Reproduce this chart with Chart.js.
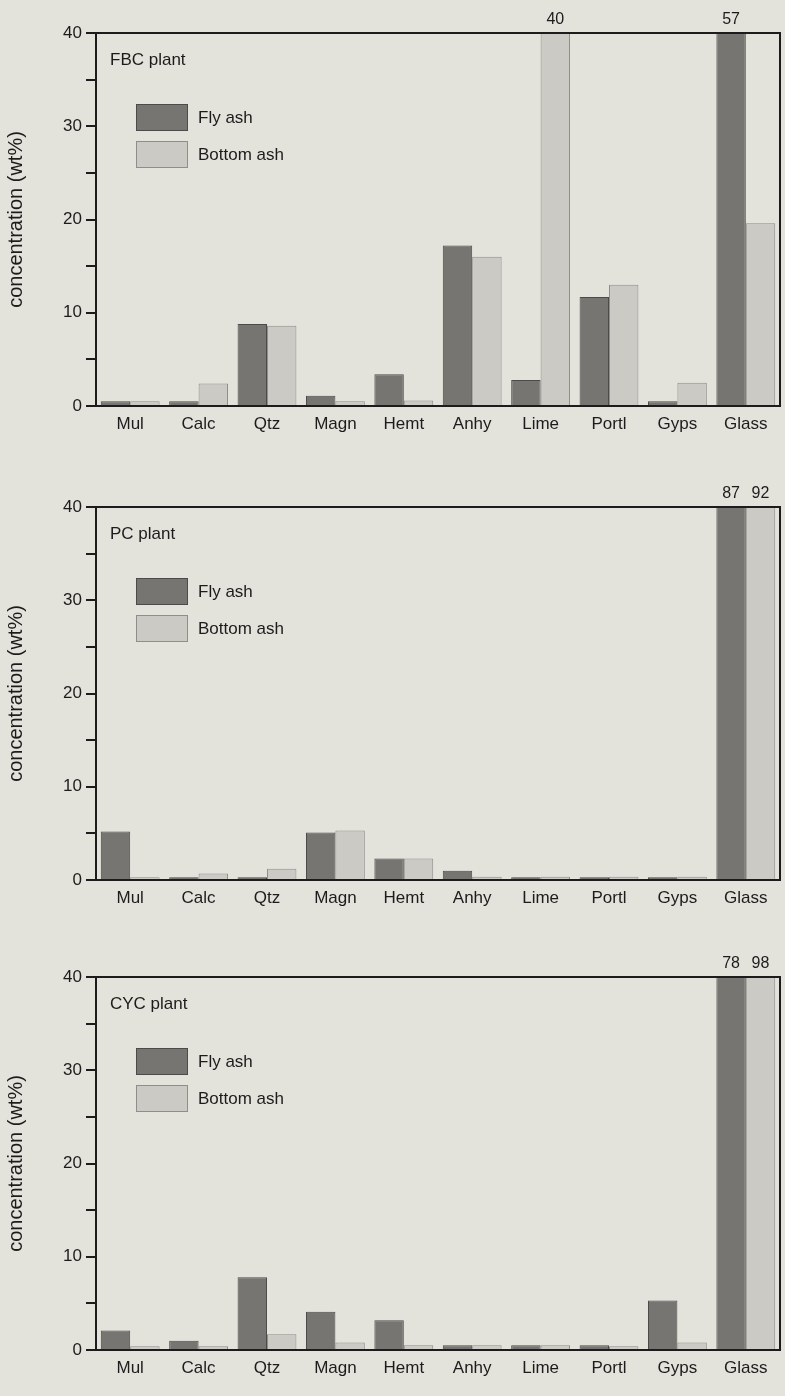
<!DOCTYPE html>
<html>
<head>
<meta charset="utf-8">
<script src="https://cdn.jsdelivr.net/npm/chart.js@4.4.1/dist/chart.umd.min.js"></script>
<style>
  html, body { margin: 0; padding: 0; background: #e3e2db; }
  body { width: 785px; height: 1396px; position: relative; overflow: hidden; }
  .panel { position: absolute; left: 0; width: 785px; height: 440px; }
</style>
</head>
<body>
<div class="panel" style="top:0px"><canvas id="fbc"></canvas></div>
<div class="panel" style="top:474px"><canvas id="pc"></canvas></div>
<div class="panel" style="top:944px"><canvas id="cyc"></canvas></div>
<script>
// Mineral phases along the x axis
const categories = ['Mul', 'Calc', 'Qtz', 'Magn', 'Hemt', 'Anhy', 'Lime', 'Portl', 'Gyps', 'Glass'];
const seriesNames = ['Fly ash', 'Bottom ash'];
const plantNames = ['FBC plant', 'PC plant', 'CYC plant'];

// Phase concentrations (wt%) per plant
const fbcFly    = [0.5, 0.5, 8.8, 1.1, 3.4, 17.2, 2.8, 11.7, 0.5, 57];
const fbcBottom = [0.5, 2.4, 8.6, 0.5, 0.6, 16.0, 40, 13.0, 2.5, 19.6];
const pcFly     = [5.2, 0.3, 0.3, 5.1, 2.3, 1.0, 0.3, 0.3, 0.3, 87];
const pcBottom  = [0.3, 0.7, 1.2, 5.3, 2.3, 0.35, 0.35, 0.35, 0.35, 92];
const cycFly    = [2.1, 1.0, 7.8, 4.1, 3.2, 0.5, 0.5, 0.5, 5.3, 78];
const cycBottom = [0.4, 0.4, 1.7, 0.8, 0.5, 0.5, 0.5, 0.4, 0.8, 98];

// Axis range and labelled ticks
const yMin = 0, yMax = 40, yStep = 5;
const yLabelled = [0, 10, 20, 30, 40];
const yTitle = 'concentration (wt%)';

const FONT = '"Liberation Sans", Arial, Helvetica, sans-serif';
const INK = '#1c1c1c';
const fills = ['#767572', '#cbcac5'];
const edges = ['#4b4b49', '#8e8e8b'];

// Frame, plant name, inset legend and values of bars cut off at the top
const panelDecor = {
  id: 'panelDecor',
  afterDatasetsDraw(chart, args, opts) {
    const { ctx, chartArea: a } = chart;
    ctx.save();
    ctx.strokeStyle = INK;
    ctx.lineWidth = 2;
    ctx.beginPath();
    ctx.moveTo(a.left, a.top);
    ctx.lineTo(a.right, a.top);
    ctx.lineTo(a.right, a.bottom);
    ctx.stroke();

    ctx.fillStyle = INK;
    ctx.font = '17px ' + FONT;
    ctx.textAlign = 'left';
    ctx.textBaseline = 'middle';
    ctx.fillText(opts.plant, a.left + 14, a.top + 27);

    chart.data.datasets.forEach((ds, i) => {
      const x = a.left + 40, y = a.top + 71 + i * 37, w = 52, h = 27;
      ctx.fillStyle = ds.backgroundColor;
      ctx.fillRect(x, y, w, h);
      ctx.strokeStyle = ds.borderColor;
      ctx.lineWidth = 1;
      ctx.strokeRect(x + 0.5, y + 0.5, w - 1, h - 1);
      ctx.fillStyle = INK;
      ctx.fillText(ds.label, x + w + 10, y + h / 2 + 1);
    });

    ctx.textAlign = 'center';
    ctx.textBaseline = 'bottom';
    ctx.font = '16px ' + FONT;
    chart.data.datasets.forEach((ds, i) => {
      const meta = chart.getDatasetMeta(i);
      ds.data.forEach((v, j) => {
        if (v >= yMax) ctx.fillText(String(v), meta.data[j].x, a.top - 5);
      });
    });
    ctx.restore();
  }
};

function makePanel(id, plant, fly, bottom) {
  return new Chart(document.getElementById(id), {
    type: 'bar',
    data: {
      labels: categories,
      datasets: [fly, bottom].map((d, i) => ({
        label: seriesNames[i],
        data: d,
        backgroundColor: fills[i],
        borderColor: edges[i],
        borderWidth: 1,
        borderSkipped: 'bottom',
        categoryPercentage: 0.86,
        barPercentage: 1.0
      }))
    },
    options: {
      responsive: true,
      maintainAspectRatio: false,
      animation: false,
      events: [],
      layout: { padding: { top: 33, right: 5, left: 2, bottom: 4 } },
      plugins: {
        legend: { display: false },
        tooltip: { enabled: false },
        panelDecor: { plant }
      },
      scales: {
        x: {
          grid: { display: false },
          border: { display: true, color: INK, width: 2 },
          ticks: { color: INK, font: { family: FONT, size: 17 }, padding: 0, maxRotation: 0, autoSkip: false },
          afterFit(s) { s.height = 30; }
        },
        y: {
          min: yMin,
          max: yMax,
          grid: { drawOnChartArea: false, drawTicks: true, tickLength: 10, color: INK, lineWidth: 2 },
          border: { display: true, color: INK, width: 2 },
          ticks: {
            stepSize: yStep,
            color: INK,
            padding: 4,
            font: { family: FONT, size: 17 },
            callback: v => (yLabelled.includes(v) ? String(v) : '')
          },
          title: { display: true, text: yTitle, color: INK, font: { family: FONT, size: 20 }, padding: 2 },
          afterFit(s) { s.width = 94; }
        }
      }
    },
    plugins: [panelDecor]
  });
}

makePanel('fbc', plantNames[0], fbcFly, fbcBottom);
makePanel('pc', plantNames[1], pcFly, pcBottom);
makePanel('cyc', plantNames[2], cycFly, cycBottom);
</script>
</body>
</html>
